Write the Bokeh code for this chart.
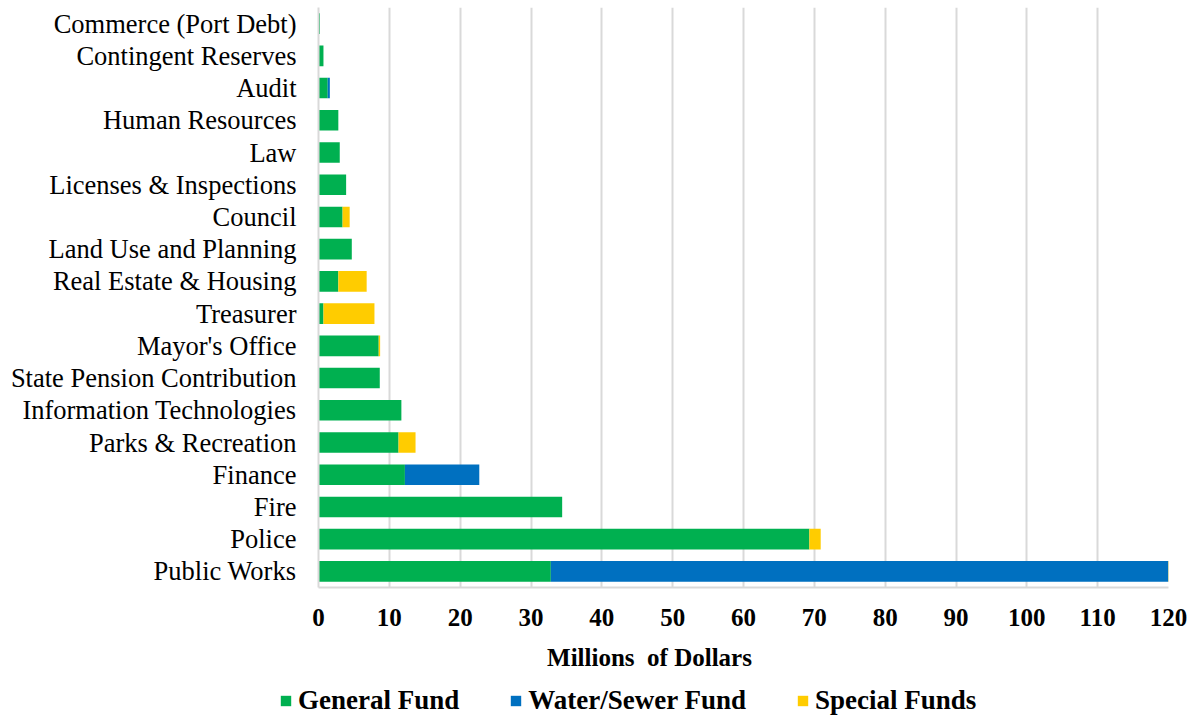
from bokeh.plotting import figure
from bokeh.models import FactorRange, Range1d, FixedTicker, Legend, LegendItem, Label, ColumnDataSource
from bokeh.embed import file_html
from bokeh.resources import INLINE

# Data (bottom to top as drawn)
departments = ["Public Works", "Police", "Fire", "Finance", "Parks & Recreation",
               "Information Technologies", "State Pension Contribution", "Mayor's Office",
               "Treasurer", "Real Estate & Housing", "Land Use and Planning", "Council",
               "Licenses & Inspections", "Law", "Human Resources", "Audit",
               "Contingent Reserves", "Commerce (Port Debt)"]
general_fund = [32.8, 69.3, 34.4, 12.2, 11.3, 11.7, 8.65, 8.5, 0.7, 2.8, 4.7, 3.4, 3.9, 3.0, 2.8, 1.3, 0.7, 0.2]
water_sewer_fund = [87.4, 0, 0, 10.5, 0, 0, 0, 0, 0, 0, 0, 0, 0, 0, 0, 0.3, 0, 0]
special_funds = [0, 1.6, 0, 0, 2.4, 0, 0, 0.2, 7.2, 4.0, 0, 1.0, 0, 0, 0, 0, 0, 0]
series_names = ["General Fund", "Water/Sewer Fund", "Special Funds"]
series_colors = ["#00B050", "#0070C0", "#FFCC00"]
x_ticks = list(range(0, 121, 10))
x_title = "Millions\u00a0 of Dollars"

source = ColumnDataSource(dict(dept=departments, general=general_fund,
                               water=water_sewer_fund, special=special_funds))

FONT = "Liberation Serif"
GRID = "#d9d9d9"

p = figure(width=1189, height=642, output_backend="svg", toolbar_location=None,
           y_range=FactorRange(factors=departments), x_range=Range1d(0, 120),
           min_border_left=318, min_border_right=21, min_border_top=7, min_border_bottom=55)
p.outline_line_color = None

p.hbar_stack(["general", "water", "special"], y="dept", height=0.64,
             color=series_colors, source=source, line_color=None)

p.xaxis.ticker = FixedTicker(ticks=x_ticks)
p.xaxis.major_label_text_font = FONT
p.xaxis.major_label_text_font_style = "bold"
p.xaxis.major_label_text_font_size = "25px"
p.xaxis.major_label_text_color = "black"
p.xaxis.major_label_standoff = 21
p.xaxis.major_tick_out = 0
p.xaxis.major_tick_in = 0
p.xaxis.minor_tick_out = 0
p.xaxis.minor_tick_in = 0
p.xaxis.axis_line_color = GRID
p.xaxis.axis_line_width = 2

p.yaxis.major_label_text_font = FONT
p.yaxis.major_label_text_font_size = "26.5px"
p.yaxis.major_label_text_color = "black"
p.yaxis.major_label_standoff = 22
p.yaxis.major_tick_out = 0
p.yaxis.major_tick_in = 0
p.yaxis.axis_line_color = GRID
p.yaxis.axis_line_width = 2

p.ygrid.grid_line_color = None
p.xgrid.grid_line_color = GRID
p.xgrid.grid_line_width = 2

# Bottom strip: axis title and legend (frame spans the full strip, 1 unit = 1 px)
lf = figure(width=1189, height=74, output_backend="svg", toolbar_location=None,
            x_range=Range1d(0, 1189), y_range=Range1d(0, 74),
            x_axis_location=None, y_axis_location=None,
            min_border=0, min_border_left=0, min_border_right=0,
            min_border_top=0, min_border_bottom=0)
lf.grid.grid_line_color = None
lf.outline_line_color = None

lf.add_layout(Label(x=649, y=59, text=x_title, text_align="center", text_baseline="middle",
                    text_font=FONT, text_font_size="25px", text_font_style="bold",
                    text_color="black"))

# off-screen proxies so the legend can draw its swatches
legend_renderers = [lf.hbar(y=[-100], right=[-90], left=[-100], height=1, color=c, line_color=None)
                    for c in series_colors]
legend = Legend(items=[LegendItem(label=n, renderers=[r])
                       for n, r in zip(series_names, legend_renderers)],
                location=(279, 0), orientation="horizontal",
                glyph_width=13, glyph_height=13, label_standoff=6, spacing=50,
                padding=0, margin=0, border_line_color=None, background_fill_alpha=0,
                label_text_font=FONT, label_text_font_size="27px", label_text_font_style="bold",
                label_text_color="black")
lf.add_layout(legend, "center")

open("out.html", "w").write(file_html([p, lf], INLINE))
